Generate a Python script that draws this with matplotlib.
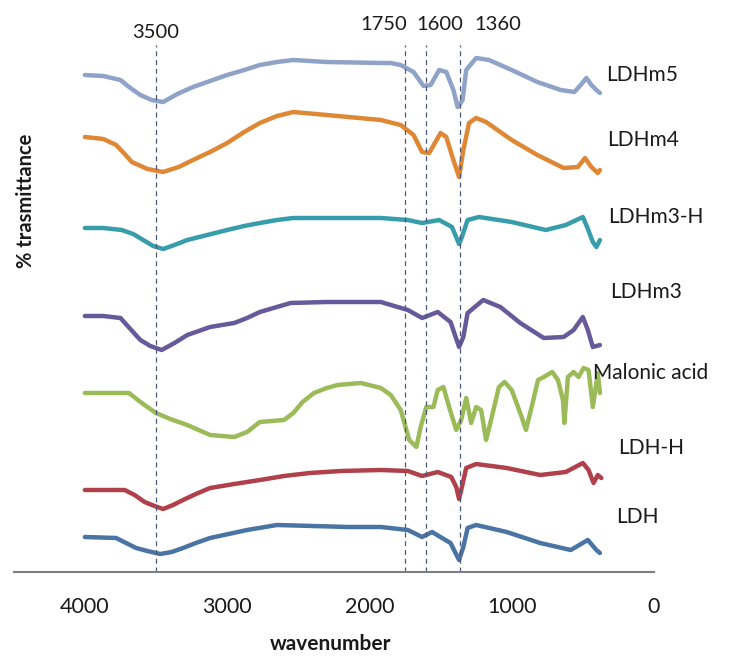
import numpy as np
import matplotlib.pyplot as plt

plt.rcParams['font.family'] = ['Lato', 'DejaVu Sans']

# FTIR spectra, each trace shifted vertically (arbitrary offset units)
wn_ldhm5 = [4000, 3870, 3750, 3680, 3610, 3530, 3450, 3350, 3240, 3120, 3000, 2880, 2770, 2650, 2535,
            2300, 1920, 1850, 1780, 1690, 1620, 1570, 1510, 1460, 1410, 1380, 1345, 1320, 1250, 1160,
            1000, 820, 655, 560, 515, 475, 440, 405, 380]
t_ldhm5 = [497, 496, 492, 484, 477, 472, 470, 478, 485, 491, 497, 502, 507, 510, 512,
           510, 509, 509, 507, 500, 486, 487, 502, 500, 482, 465, 472, 502, 514, 512,
           502, 490, 482, 480, 487, 494, 487, 482, 479]

wn_ldhm4 = [4000, 3870, 3780, 3720, 3670, 3560, 3450, 3340, 3240, 3120, 3000, 2880, 2770, 2650, 2535,
            2300, 1920, 1780, 1690, 1630, 1580, 1500, 1460, 1410, 1370, 1340, 1300, 1250, 1180, 1000,
            820, 635, 535, 485, 440, 395, 380]
t_ldhm4 = [435, 433, 427, 418, 410, 403, 400, 405, 412, 420, 429, 440, 449, 456, 460,
           457, 452, 447, 437, 420, 419, 439, 435, 412, 395, 422, 449, 454, 450, 432,
           417, 404, 405, 414, 405, 399, 402]

wn_ldhm3h = [4000, 3870, 3740, 3660, 3590, 3520, 3450, 3370, 3280, 3140, 3000, 2880, 2770, 2650, 2535,
             2300, 1920, 1730, 1630, 1510, 1420, 1370, 1350, 1310, 1230, 1000, 760, 620, 500, 470,
             430, 405, 380]
t_ldhm3h = [344, 344, 342, 338, 332, 326, 323, 327, 332, 337, 342, 346, 349, 352, 354,
            354, 354, 352, 349, 352, 345, 328, 335, 352, 355, 350, 342, 347, 355, 345,
            330, 325, 332]

wn_ldhm3 = [4000, 3870, 3750, 3680, 3610, 3540, 3460, 3370, 3280, 3120, 2950, 2860, 2770, 2650, 2555,
            2300, 1920, 1730, 1630, 1520, 1430, 1370, 1340, 1310, 1200, 1080, 940, 775, 635, 565,
            500, 465, 430, 380]
t_ldhm3 = [256, 256, 254, 243, 232, 226, 222, 229, 237, 245, 249, 254, 260, 265, 269,
           270, 270, 262, 254, 260, 250, 225, 235, 259, 272, 265, 249, 234, 235, 242,
           255, 242, 225, 227]

wn_malonic = [4000, 3690, 3600, 3500, 3400, 3280, 3120, 2950, 2860, 2770, 2600, 2535, 2470, 2390, 2300,
              2225, 2060, 1920, 1850, 1780, 1720, 1670, 1640, 1600, 1550, 1520, 1480, 1440, 1390, 1355,
              1320, 1285, 1250, 1215, 1180, 1140, 1090, 1050, 1000, 930, 900, 860, 815, 775, 715,
              675, 640, 630, 605, 565, 530, 495, 460, 430, 395, 380]
t_malonic = [179, 179, 169, 159, 153, 147, 137, 135, 140, 150, 152, 159, 170, 179, 184,
             187, 189, 184, 177, 162, 132, 125, 145, 165, 165, 182, 185, 165, 142, 152,
             174, 149, 165, 162, 132, 155, 185, 190, 182, 155, 142, 165, 192, 195, 200,
             192, 172, 149, 195, 200, 195, 204, 202, 165, 199, 179]

wn_ldhh = [4000, 3720, 3650, 3580, 3510, 3450, 3380, 3310, 3220, 3120, 2950, 2770, 2600, 2420, 2200,
           1920, 1730, 1630, 1520, 1425, 1390, 1370, 1350, 1320, 1250, 1035, 800, 620, 500, 460,
           425, 395, 370]
t_ldhh = [82, 82, 77, 70, 66, 63, 67, 72, 78, 84, 88, 92, 96, 99, 101,
          102, 101, 96, 100, 95, 85, 73, 85, 104, 108, 104, 97, 100, 109, 102,
          89, 97, 94]

wn_ldh = [4000, 3780, 3710, 3640, 3560, 3470, 3390, 3310, 3220, 3120, 2990, 2860, 2650, 2400, 2150,
          1920, 1730, 1630, 1560, 1430, 1370, 1340, 1310, 1250, 1035, 800, 585, 465, 405, 380]
t_ldh = [35, 34, 29, 24, 21, 18, 20, 24, 29, 34, 38, 42, 47, 46, 45,
         45, 42, 35, 40, 29, 12, 25, 44, 47, 40, 29, 22, 32, 22, 19]

series = [
    ('LDHm5', wn_ldhm5, t_ldhm5, '#8FA2C8'),
    ('LDHm4', wn_ldhm4, t_ldhm4, '#DE8835'),
    ('LDHm3-H', wn_ldhm3h, t_ldhm3h, '#379DAB'),
    ('LDHm3', wn_ldhm3, t_ldhm3, '#675A9B'),
    ('Malonic acid', wn_malonic, t_malonic, '#9BBB59'),
    ('LDH-H', wn_ldhh, t_ldhh, '#B0404A'),
    ('LDH', wn_ldh, t_ldh, '#4A74A4'),
]

# where each series name sits (wavenumber, offset)
label_pos = {
    'LDHm5': (338, 497), 'LDHm4': (330, 432), 'LDHm3-H': (324, 355), 'LDHm3': (310, 280),
    'Malonic acid': (430, 199), 'LDH-H': (254, 124), 'LDH': (268, 55),
}

bands = [3500, 1750, 1600, 1360]
band_text_x = [3500, 1901, 1507, 1099]
band_text_y = [539, 548, 548, 548]

fig = plt.figure(figsize=(7.39, 6.65), dpi=100)
ax = fig.add_axes([13.7 / 739, 93 / 665, (654 - 13.7) / 739, 552 / 665])

for name, x, y, c in series:
    ax.plot(x, y, color=c, lw=3.2, solid_joinstyle='round', solid_capstyle='round')
    lx, ly = label_pos[name]
    ax.text(lx, ly, name, fontsize=15, color='#1a1a1a', va='center', ha='left')

ax.vlines(bands, 0, 527, colors='#4d5878', linestyles=(0, (4, 3)), lw=0.9)
for b, tx, ty in zip(bands, band_text_x, band_text_y):
    ax.text(tx, ty, str(b), fontsize=14.5, color='#1a1a1a', ha='center', va='center')

ax.set_xlim(4500, 0)
ax.set_ylim(0, 552)
ax.set_xticks([4000, 3000, 2000, 1000, 0])
ax.set_yticks([])
ax.tick_params(axis='x', length=0, pad=18, labelsize=15.5, labelcolor='#1a1a1a')
for s in ['left', 'top', 'right']:
    ax.spines[s].set_visible(False)
ax.spines['bottom'].set_color('#7f7f7f')
ax.spines['bottom'].set_linewidth(1.5)

fig.text(331 / 739, 1 - 644 / 665, 'wavenumber', fontsize=15, fontweight='bold',
         ha='center', va='center', color='#1a1a1a')
fig.text(26 / 739, 1 - 201 / 665, '% trasmittance', fontsize=14.5, fontweight='bold',
         rotation=90, ha='center', va='center', color='#1a1a1a')

fig.savefig('out.png', dpi=100)
